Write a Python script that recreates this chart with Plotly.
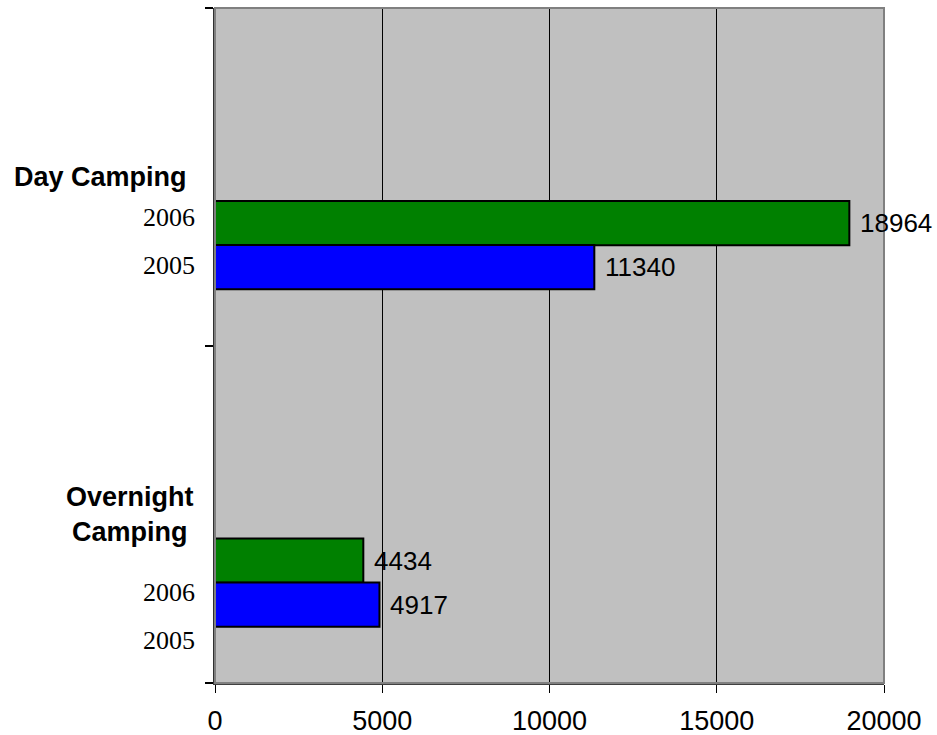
import plotly.graph_objects as go

# Camping attendance by type and year
categories = ["Day Camping", "Overnight Camping"]
category_labels = ["Day Camping", "Overnight<br>Camping"]
years = ["2006", "2005"]
values_2006 = [18964, 4434]
values_2005 = [11340, 4917]
x_ticks = [0, 5000, 10000, 15000, 20000]

# Each category occupies one unit band on a numeric y axis (Day on top)
band_base = [1, 0]
bar_offset = {"2006": 0.3625, "2005": 0.232}
bar_width = 0.131
year_label_offset = [[0.379, 0.2385], [0.2676, 0.1274]]
heading_shift = [-26, -19]

colors = {"2006": "#008000", "2005": "#0000FF"}
series = {"2006": values_2006, "2005": values_2005}

fig = go.Figure()
for yr in years:
    fig.add_trace(go.Bar(
        orientation="h",
        x=series[yr],
        y=[b + bar_offset[yr] for b in band_base],
        width=bar_width,
        marker=dict(color=colors[yr], line=dict(color="#000000", width=2)),
        name=yr,
        showlegend=False,
        hoverinfo="x",
    ))

annotations = []
# Value labels to the right of each bar
for yr in years:
    for b, v in zip(band_base, series[yr]):
        annotations.append(dict(
            x=v, y=b + bar_offset[yr], xref="x", yref="y",
            text=str(v), showarrow=False, xanchor="left", yanchor="middle",
            xshift=9, font=dict(family="Liberation Sans, Arial", size=26, color="#000000"),
        ))

# Category headings and year labels on the left
px_per_paper = 669.0
for i, (b, lab) in enumerate(zip(band_base, category_labels)):
    annotations.append(dict(
        x=heading_shift[i] / px_per_paper, y=b + 0.5, xref="paper", yref="y",
        text="<b>%s</b>" % lab, showarrow=False, xanchor="right", yanchor="middle",
        align="center",
        font=dict(family="Liberation Sans, Arial", size=27, color="#000000"),
    ))
    for yr, off in zip(years, year_label_offset[i]):
        annotations.append(dict(
            x=-18 / px_per_paper, y=b + off, xref="paper", yref="y",
            text=yr, showarrow=False, xanchor="right", yanchor="middle",
            font=dict(family="Liberation Serif, Times New Roman", size=26, color="#000000"),
        ))

fig.update_layout(
    width=937, height=735,
    margin=dict(l=215, r=53, t=8, b=52),
    paper_bgcolor="#FFFFFF",
    plot_bgcolor="#C0C0C0",
    barmode="overlay",
    annotations=annotations,
    shapes=[dict(type="rect", xref="paper", yref="paper", x0=0, x1=1, y0=0, y1=1,
                 line=dict(color="#808080", width=2), fillcolor="rgba(0,0,0,0)", layer="above")],
    xaxis=dict(
        range=[0, 20000], tickvals=x_ticks, ticktext=[str(t) for t in x_ticks],
        showgrid=True, gridcolor="#000000", gridwidth=1, zeroline=False,
        showline=True, linecolor="#404040", linewidth=2,
        ticks="outside", ticklen=8, tickcolor="#000000", tickwidth=1,
        ticklabelstandoff=5, automargin=False,
        tickfont=dict(family="Liberation Sans, Arial", size=27, color="#000000"),
        fixedrange=True,
    ),
    yaxis=dict(
        range=[0, 2], tickvals=[0, 1, 2], showticklabels=False,
        showgrid=False, zeroline=False, automargin=False,
        showline=True, linecolor="#303030", linewidth=2,
        ticks="outside", ticklen=8, tickcolor="#000000", tickwidth=2,
        fixedrange=True,
    ),
)

fig.write_html("out.html")
